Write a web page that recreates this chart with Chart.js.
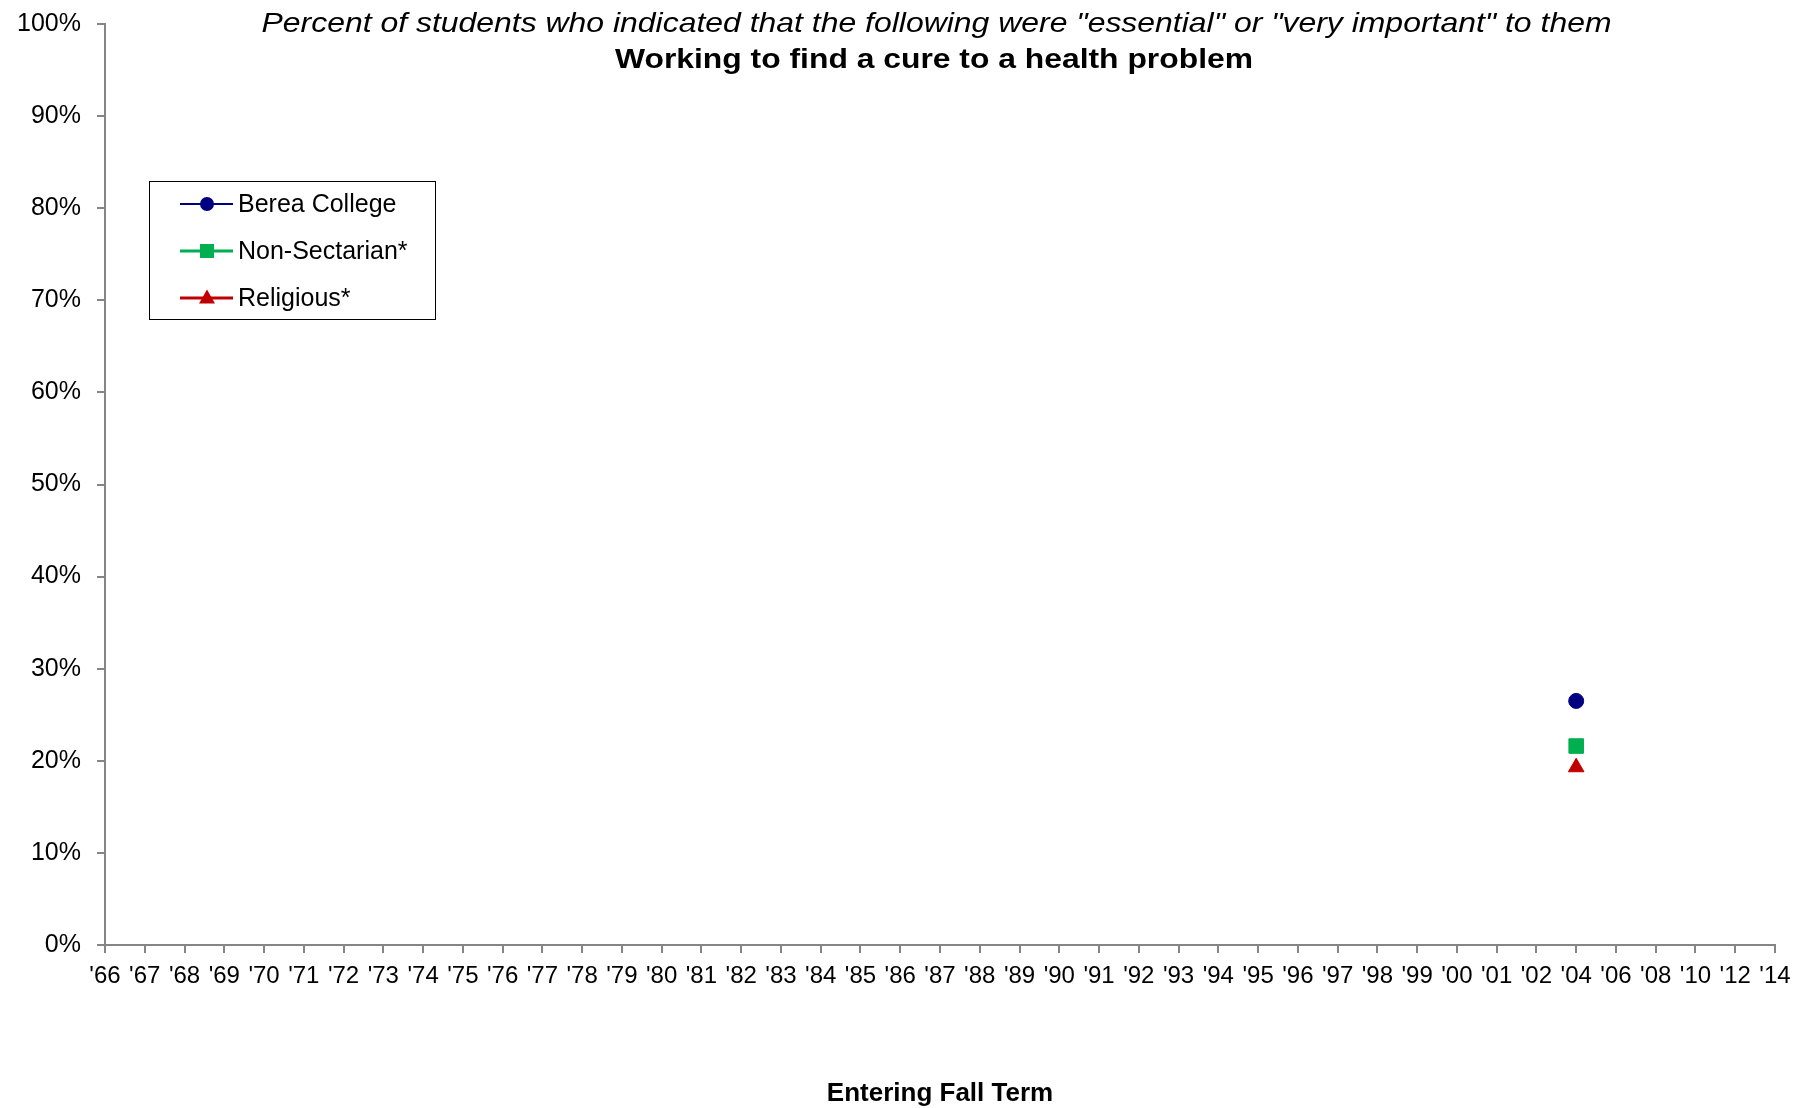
<!DOCTYPE html>
<html>
<head>
<meta charset="utf-8">
<script src="https://cdn.jsdelivr.net/npm/chart.js@4/dist/chart.umd.min.js"></script>
<style>
html, body { margin: 0; padding: 0; background: #ffffff; }
#wrap { width: 1814px; height: 1108px; position: relative; }
</style>
</head>
<body>
<div id="wrap"><canvas id="c" width="1814" height="1108"></canvas></div>
<script>
// ---- Data ----
const years = ["'66","'67","'68","'69","'70","'71","'72","'73","'74","'75",
  "'76","'77","'78","'79","'80","'81","'82","'83","'84","'85",
  "'86","'87","'88","'89","'90","'91","'92","'93","'94","'95",
  "'96","'97","'98","'99","'00","'01","'02","'04","'06","'08",
  "'10","'12","'14"];

const bereaCollege = [
  null,null,null,null,null,null,null,null,null,null,
  null,null,null,null,null,null,null,null,null,null,
  null,null,null,null,null,null,null,null,null,null,
  null,null,null,null,null,null,null,
  26.5,
  null,null,null,null,null];

const nonSectarian = [
  null,null,null,null,null,null,null,null,null,null,
  null,null,null,null,null,null,null,null,null,null,
  null,null,null,null,null,null,null,null,null,null,
  null,null,null,null,null,null,null,
  21.6,
  null,null,null,null,null];

const religious = [
  null,null,null,null,null,null,null,null,null,null,
  null,null,null,null,null,null,null,null,null,null,
  null,null,null,null,null,null,null,null,null,null,
  null,null,null,null,null,null,null,
  19.3,
  null,null,null,null,null];

const seriesNames = ["Berea College", "Non-Sectarian*", "Religious*"];
const titleLine1 = 'Percent of students who indicated that the following were "essential" or "very important" to them';
const titleLine2 = 'Working to find a cure to a health problem';
const xAxisTitle = 'Entering Fall Term';

// ---- Styling ----
const FONT = "'Liberation Sans', Arial, Helvetica, sans-serif";
const AXIS_GRAY = '#858585';

const titlePlugin = {
  id: 'twoLineTitle',
  afterDraw(chart) {
    const ctx = chart.ctx;
    const lines = [
      { text: titleLine1, font: 'italic 28px ' + FONT, cx: 936.5, base: 32, width: 1350 },
      { text: titleLine2, font: 'bold 28px ' + FONT, cx: 934, base: 68, width: 638 }
    ];
    ctx.save();
    ctx.fillStyle = '#000000';
    ctx.textBaseline = 'alphabetic';
    ctx.textAlign = 'center';
    lines.forEach(l => {
      ctx.font = l.font;
      const w = ctx.measureText(l.text).width;
      const sx = l.width / w;
      ctx.save();
      ctx.translate(l.cx, l.base);
      ctx.scale(sx, 1);
      ctx.fillText(l.text, 0, 0);
      ctx.restore();
    });
    ctx.restore();
  }
};

const legendPlugin = {
  id: 'boxedLegend',
  afterDraw(chart) {
    const ctx = chart.ctx;
    ctx.save();
    ctx.strokeStyle = '#000000';
    ctx.lineWidth = 1;
    ctx.strokeRect(149.5, 181.5, 286, 138);
    chart.data.datasets.forEach((ds, i) => {
      const cy = 204 + i * 47;
      const mx = 207;
      ctx.strokeStyle = ds.borderColor;
      ctx.fillStyle = ds.backgroundColor;
      ctx.lineWidth = ds.borderWidth;
      ctx.beginPath();
      ctx.moveTo(180, cy);
      ctx.lineTo(233, cy);
      ctx.stroke();
      ctx.beginPath();
      if (ds.pointStyle === 'circle') {
        ctx.arc(mx, cy, 7, 0, Math.PI * 2);
        ctx.fill();
      } else if (ds.pointStyle === 'rect') {
        ctx.fillRect(mx - 7, cy - 7, 14, 14);
      } else if (ds.pointStyle === 'triangle') {
        ctx.moveTo(mx, cy - 8.5);
        ctx.lineTo(mx + 8, cy + 5.5);
        ctx.lineTo(mx - 8, cy + 5.5);
        ctx.closePath();
        ctx.fill();
      }
      ctx.fillStyle = '#000000';
      ctx.font = '25px ' + FONT;
      ctx.textBaseline = 'middle';
      ctx.textAlign = 'left';
      ctx.fillText(ds.label, 238, cy + 1);
    });
    ctx.restore();
  }
};

new Chart(document.getElementById('c'), {
  type: 'line',
  data: {
    labels: years,
    datasets: [
      { label: seriesNames[0], data: bereaCollege, borderColor: '#000080', backgroundColor: '#000080',
        borderWidth: 2, pointBorderWidth: 1, pointStyle: 'circle', pointRadius: 7.5, spanGaps: false },
      { label: seriesNames[1], data: nonSectarian, borderColor: '#00B050', backgroundColor: '#00B050',
        borderWidth: 3, pointBorderWidth: 1, pointStyle: 'rect', pointRadius: 10.3, spanGaps: false },
      { label: seriesNames[2], data: religious, borderColor: '#C00000', backgroundColor: '#C00000',
        borderWidth: 3, pointBorderWidth: 1, pointStyle: 'triangle', pointRadius: 9, spanGaps: false }
    ]
  },
  options: {
    responsive: false,
    animation: false,
    events: [],
    layout: { padding: { left: 0, right: 39, top: 24, bottom: 0 } },
    plugins: {
      legend: { display: false },
      title: { display: false },
      tooltip: { enabled: false }
    },
    scales: {
      x: {
        type: 'category',
        offset: false,
        grid: { drawOnChartArea: false, drawTicks: true, tickLength: 8, color: AXIS_GRAY, lineWidth: 2 },
        border: { display: true, color: AXIS_GRAY, width: 2 },
        ticks: { autoSkip: false, maxRotation: 0, minRotation: 0, padding: 9, color: '#000000',
          font: { family: FONT, size: 24 } },
        title: { display: true, text: xAxisTitle, color: '#000000',
          font: { family: FONT, size: 26, weight: 'bold', lineHeight: 1.1 }, padding: { top: 0, bottom: 0 } },
        afterFit(s) { s.height = 163; s.paddingLeft = 0; s.paddingRight = 0; }
      },
      y: {
        min: 0,
        max: 100,
        ticks: { stepSize: 10, callback: v => v + '%', padding: 16, color: '#000000',
          font: { family: FONT, size: 25 } },
        grid: { drawOnChartArea: false, drawTicks: true, tickLength: 8, color: AXIS_GRAY, lineWidth: 2 },
        border: { display: true, color: AXIS_GRAY, width: 2 },
        afterFit(s) { s.width = 105; s.paddingTop = 0; s.paddingBottom = 0; }
      }
    }
  },
  plugins: [titlePlugin, legendPlugin]
});
</script>
</body>
</html>
